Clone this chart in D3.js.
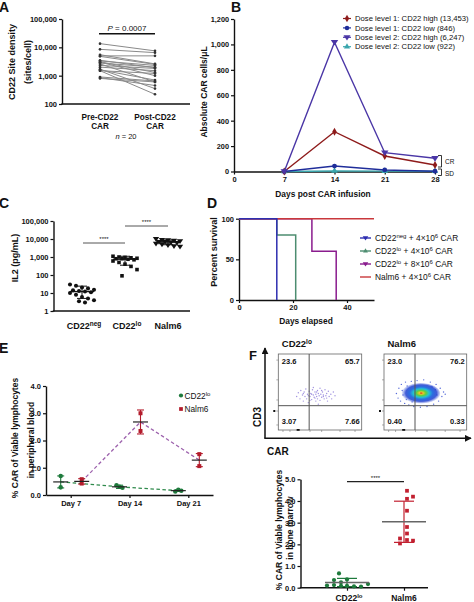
<!DOCTYPE html>
<html><head><meta charset="utf-8">
<script src="https://cdn.jsdelivr.net/npm/d3@7"></script>
<style>
body{margin:0;background:#fff}
svg{display:block}
</style></head><body><svg id="c" width="474" height="602"></svg>
<script>
// ---------------- DATA ----------------
// Panel A: CD22 site density, paired pre/post
const aCats = ["Pre-CD22\nCAR", "Post-CD22\nCAR"];
const aYTicks = [100, 1000, 10000, 100000];
const aPre  = [13500, 8500, 5500, 5000, 4800, 3500, 3300, 3100, 3000, 2800, 2600, 2300, 2000, 1700, 1600, 1500, 1500, 900, 850, 800];
const aPost = [7500, 6500, 2600, 5000, 2500, 1900, 2300, 1300, 1000, 2000, 600, 1800, 1500, 350, 700, 220, 1200, 650, 450, 600];

// Panel B: absolute CAR cells
const bDays = [7, 14, 21, 28];
const bXTicks = [0, 7, 14, 21, 28];
const bYTicks = [0, 200, 400, 600, 800, 1000, 1200];
const bNames = ["Dose level 1: CD22 high (13,453)", "Dose level 1: CD22 low (846)", "Dose level 2: CD22 high (6,247)", "Dose level 2: CD22 low (922)"];
const bDose1High = [0, 313, 122, 51];
const bDose1Low  = [0, 43, 12, 2];
const bDose2High = [0, 1017, 148, 104];
const bDose2Low  = [0, 4, 3, 2];

// Panel C: IL2
const cCats = ["CD22neg", "CD22lo", "Nalm6"];
const cYTicks = [1, 10, 100, 1000, 10000, 100000];
const cNeg  = [30, 25, 20, 18, 15, 14, 13, 12, 11, 10, 8, 6, 5, 4, 3.5, 3];
const cLo   = [1100, 1000, 950, 900, 850, 800, 800, 750, 700, 600, 500, 400, 300, 200, 90];
const cNalm = [10000, 9000, 8500, 8000, 7500, 7000, 7000, 6500, 6000, 5500, 5000, 4500, 4000, 3800];
const cMedian = [12, 750, 6800];
const cLow  = [5, 350, 4800];
const cHigh = [24, 1100, 8800];

// Panel D: survival
const dNames = [["CD22", "neg", " + 4\u00d710", "6", " CAR"], ["CD22", "lo", " + 4\u00d710", "6", " CAR"], ["CD22", "lo", " + 8\u00d710", "6", " CAR"], ["Nalm6 + 4\u00d710", "6", " CAR"]];
const dNeg4 = [[0, 100], [14, 0]];
const dLo4  = [[0, 100], [14, 80], [21, 0]];
const dLo8  = [[0, 100], [27, 60], [36, 0]];
const dNalm = [[0, 100], [50, 100]];
const dXTicks = [0, 20, 40];
const dYTicks = [0, 50, 100];

// Panel E: % CAR in peripheral blood
const eDays = ["Day 7", "Day 14", "Day 21"];
const eYTicks = [0, 1, 2, 3, 4];
const eLoPts   = [[0.70, 0.28], [0.36, 0.27, 0.30], [0.13, 0.16, 0.19]];
const eLoMean  = [0.48, 0.30, 0.16];
const eLoSD    = [0.22, 0.06, 0.03];
const eNalmPts  = [[0.58, 0.42], [3.0, 2.35], [1.5, 1.06]];
const eNalmMean = [0.50, 2.68, 1.28];
const eNalmSD   = [0.10, 0.44, 0.24];

// Panel F: flow quadrants
const fQuadL = ["23.6", "65.7", "3.07", "7.66"];
const fQuadR = ["23.0", "76.2", "0.40", "0.33"];
const fLeftDots = [[22,44],[24,49],[26,41],[27,52],[29,46],[30,38],[31,50],[32,44],[33,54],[34,41],[35,47],[36,36],[37,51],[38,44],[39,48],[40,40],[41,53],[42,46],[43,43],[44,50],[45,38],[45,47],[46,44],[47,52],[47,41],[48,48],[49,45],[50,55],[50,39],[51,47],[52,43],[53,50],[54,46],[55,41],[56,53],[57,45],[58,48],[59,38],[60,51],[61,44],[63,47],[64,41],[66,50],[68,45],[42,56],[48,34],[36,45],[44,42],[52,52],[40,47],[46,50],[54,44],[38,39],[58,42],[30,48]];
const fRightDots = [[15,48],[17,42],[18,55],[20,38],[21,60],[23,46],[25,35],[26,63],[28,58],[30,33],[33,64],[36,31],[40,65],[44,30],[48,66],[52,31],[56,63],[60,34],[63,60],[66,38],[68,55],[70,44],[72,50],[74,47],[64,46],[22,52],[58,57],[34,37],[27,40],[62,53]];
const fRightBlob = {cx: 44, cy: 48, rx: 24, ry: 14};
// Panel F bottom: bone marrow
const fCats = ["CD22lo", "Nalm6"];
const fYTicks = [0, 1, 2, 3, 4, 5];
const fLo   = [0.66, 0.38, 0.35, 0.25, 0.17, 0.12, 0.10, 0.08, 0.08, 0.06, 0.05];
const fNalm = [4.47, 4.2, 4.1, 3.55, 2.8, 2.5, 2.27, 2.2, 2.17, 2.04];
const fMean = [0.24, 3.04];
const fSD   = [0.19, 0.95];

// ---------------- HELPERS ----------------
const FONT = '"Liberation Sans", Arial, Helvetica, sans-serif';
const svg = d3.select("#c").attr("font-family", FONT);
svg.append("rect").attr("width", 474).attr("height", 602).attr("fill", "#fff");

function txt(g, x, y, s, fs, o = {}) {
  return g.append("text").attr("x", x).attr("y", y).attr("font-size", fs)
    .attr("font-weight", o.w || "normal").attr("text-anchor", o.a || "start")
    .attr("fill", o.c || "#111").text(s);
}
function vtxt(g, xc, yc, s, fs, w) {
  return g.append("text").attr("transform", `translate(${xc + 0.35 * fs},${yc}) rotate(-90)`)
    .attr("text-anchor", "middle").attr("font-size", fs).attr("font-weight", w || "bold")
    .attr("fill", "#111").text(s);
}
function rich(t, parts, supSize) {
  parts.forEach((p, i) => {
    const ts = t.append("tspan").text(p);
    if (i % 2 === 1) ts.attr("dy", -3).attr("font-size", supSize);
    else if (i > 0) ts.attr("dy", 3);
  });
  return t;
}
function axStyle(g, fs) {
  g.select(".domain").attr("stroke", "#111").attr("stroke-width", 1.4);
  g.selectAll(".tick line").attr("stroke", "#111").attr("stroke-width", 1.2);
  g.selectAll(".tick text").attr("font-size", fs).attr("font-weight", "bold").attr("fill", "#111").attr("font-family", FONT);
}
function seg(g, x1, y1, x2, y2, c, w, dash) {
  const l = g.append("line").attr("x1", x1).attr("y1", y1).attr("x2", x2).attr("y2", y2)
    .attr("stroke", c).attr("stroke-width", w);
  if (dash) l.attr("stroke-dasharray", dash);
  return l;
}
function sym(g, type, x, y, size, c) {
  return g.append("path").attr("d", d3.symbol().type(type).size(size)()).attr("transform", `translate(${x},${y})`).attr("fill", c);
}
const triDown = { draw(ctx, size) { const r = Math.sqrt(size / 1.3); ctx.moveTo(-r, -r * 0.6); ctx.lineTo(r, -r * 0.6); ctx.lineTo(0, r * 0.9); ctx.closePath(); } };

// ---------------- PANEL A ----------------
{
  const g = svg.append("g");
  txt(g, -1, 12, "A", 14, { w: "bold" });
  const y = d3.scaleLog().domain([100, 100000]).range([104, 19]);
  const x = d3.scalePoint().domain(aCats).range([100, 155]);
  g.append("g").attr("transform", "translate(62,0)")
    .call(d3.axisLeft(y).tickValues(aYTicks).tickFormat(d3.format(",")).tickSize(3).tickSizeOuter(0).tickPadding(2))
    .call(axStyle, 7.5);
  seg(g, 61.3, 104, 190, 104, "#111", 1.4);
  aPre.forEach((v, i) => {
    seg(g, x(aCats[0]), y(v), x(aCats[1]), y(aPost[i]), "#8a8a8a", 1);
  });
  aPre.forEach((v, i) => {
    g.append("circle").attr("cx", x(aCats[0])).attr("cy", y(v)).attr("r", 1.3).attr("fill", "#333");
    g.append("circle").attr("cx", x(aCats[1])).attr("cy", y(aPost[i])).attr("r", 1.3).attr("fill", "#333");
  });
  aCats.forEach(c => {
    const [l1, l2] = c.split("\n");
    txt(g, x(c), 119.5, l1, 8.2, { w: "bold", a: "middle" });
    txt(g, x(c), 129, l2, 8.2, { w: "bold", a: "middle" });
  });
  const p = txt(g, 127, 31, "", 8, { a: "middle" });
  p.append("tspan").attr("font-style", "italic").text("P");
  p.append("tspan").text(" = 0.0007");
  seg(g, 99, 33.8, 155, 33.8, "#111", 1.5);
  const n = txt(g, 126, 139, "", 7.5, { a: "middle" });
  n.append("tspan").attr("font-style", "italic").text("n");
  n.append("tspan").text(" = 20");
  vtxt(g, 12, 62, "CD22 Site density", 9);
  vtxt(g, 28, 62, "(sites/cell)", 9);
}

// ---------------- PANEL B ----------------
{
  const g = svg.append("g");
  txt(g, 231, 12, "B", 14, { w: "bold" });
  const x = d3.scaleLinear().domain([0, 28]).range([234, 435]);
  const y = d3.scaleLinear().domain([0, 1200]).range([171.5, 19]);
  g.append("g").attr("transform", "translate(234,0)")
    .call(d3.axisLeft(y).tickValues(bYTicks).tickFormat(d3.format(",")).tickSize(3).tickSizeOuter(0).tickPadding(2))
    .call(axStyle, 7.3);
  g.append("g").attr("transform", "translate(0,171.5)")
    .call(d3.axisBottom(x).tickValues(bXTicks).tickSize(3).tickSizeOuter(0).tickPadding(2))
    .call(axStyle, 7.5);
  const series = [
    { v: bDose2Low, c: "#3aa6ad", s: d3.symbolTriangle },
    { v: bDose1Low, c: "#1f2d9a", s: d3.symbolCircle },
    { v: bDose1High, c: "#8e1b1b", s: d3.symbolDiamond },
    { v: bDose2High, c: "#4a36a6", s: triDown },
  ];
  const line = d3.line().x((d, i) => x(bDays[i])).y(d => y(d));
  series.forEach(s => {
    g.append("path").attr("d", line(s.v)).attr("fill", "none").attr("stroke", s.c).attr("stroke-width", 1.4);
    s.v.forEach((d, i) => sym(g, s.s, x(bDays[i]), y(d), 18, s.c));
  });
  const legOrder = [
    { c: "#8e1b1b", s: d3.symbolDiamond }, { c: "#1f2d9a", s: d3.symbolCircle },
    { c: "#4a36a6", s: triDown }, { c: "#3aa6ad", s: d3.symbolTriangle }];
  bNames.forEach((nm, i) => {
    const yy = 18.5 + i * 9.4;
    seg(g, 343, yy, 351, yy, legOrder[i].c, 1.2);
    sym(g, legOrder[i].s, 347, yy, 16, legOrder[i].c);
    txt(g, 355, yy + 2.7, nm, 7.7);
  });
  g.append("path").attr("d", "M438,155.5H441.5V167H438").attr("fill", "none").attr("stroke", "#222").attr("stroke-width", 0.9);
  g.append("path").attr("d", "M438,169H441.5V175.5H438").attr("fill", "none").attr("stroke", "#222").attr("stroke-width", 0.9);
  txt(g, 445, 163.5, "CR", 6.5);
  txt(g, 445, 175.5, "SD", 6.5);
  txt(g, 323, 196.5, "Days post CAR infusion", 8.4, { w: "bold", a: "middle" });
  vtxt(g, 204.5, 92, "Absolute CAR cells/\u03bcL", 8.5);
}

// ---------------- PANEL C ----------------
{
  const g = svg.append("g");
  txt(g, -1, 208, "C", 14, { w: "bold" });
  const y = d3.scaleLog().domain([1, 100000]).range([311, 221]);
  const x = d3.scalePoint().domain(cCats).range([82, 168]);
  g.append("g").attr("transform", "translate(53.5,0)")
    .call(d3.axisLeft(y).tickValues(cYTicks).tickFormat(d3.format(",")).tickSize(3).tickSizeOuter(0).tickPadding(2))
    .call(axStyle, 7.5);
  seg(g, 52.8, 311, 190, 311, "#111", 1.4);
  const jit = [-12, -6, 0, 6, 12, -9, -3, 3, 9, -12, -6, 0, 6, 12, -3, 3];
  const groups = [
    { v: cNeg, s: d3.symbolCircle }, { v: cLo, s: d3.symbolSquare }, { v: cNalm, s: triDown }];
  groups.forEach((gr, k) => {
    const cx = x(cCats[k]);
    gr.v.forEach((v, i) => sym(g, gr.s, cx + jit[i % jit.length], y(v), 13, "#111"));
    seg(g, cx - 12, y(cMedian[k]), cx + 12, y(cMedian[k]), "#111", 1.3);
    seg(g, cx, y(cLow[k]), cx, y(cHigh[k]), "#111", 1);
    seg(g, cx - 5, y(cLow[k]), cx + 5, y(cLow[k]), "#111", 1);
    seg(g, cx - 5, y(cHigh[k]), cx + 5, y(cHigh[k]), "#111", 1);
  });
  seg(g, 83, 243, 125, 243, "#555", 1);
  txt(g, 104, 241, "****", 6, { a: "middle" });
  seg(g, 125, 226, 168, 226, "#555", 1);
  txt(g, 146.5, 224, "****", 6, { a: "middle" });
  const labs = [["CD22", "neg"], ["CD22", "lo"], ["Nalm6"]];
  labs.forEach((l, k) => {
    const t = txt(g, x(cCats[k]) + (k === 2 ? 0 : 2), 328.5, "", 9, { w: "bold", a: "middle" });
    rich(t, l, 6.5);
  });
  vtxt(g, 15, 258, "IL2 (pg/mL)", 9);
}

// ---------------- PANEL D ----------------
{
  const g = svg.append("g");
  txt(g, 207, 208, "D", 14, { w: "bold" });
  const x = d3.scaleLinear().domain([0, 50]).range([239, 374]);
  const y = d3.scaleLinear().domain([0, 100]).range([300, 218.7]);
  g.append("g").attr("transform", "translate(239,0)")
    .call(d3.axisLeft(y).tickValues(dYTicks).tickSize(3).tickSizeOuter(0).tickPadding(2))
    .call(axStyle, 7.5);
  g.append("g").attr("transform", "translate(0,300)")
    .call(d3.axisBottom(x).tickValues(dXTicks).tickSize(3).tickSizeOuter(0).tickPadding(2))
    .call(axStyle, 7.5);
  const line = d3.line().x(d => x(d[0])).y(d => y(d[1])).curve(d3.curveStepAfter);
  const cols = { neg: "#2e2eb0", lo4: "#4d8d70", lo8: "#8a1c8e", nalm: "#c9383c" };
  [[dLo4, cols.lo4], [dLo8, cols.lo8], [dNalm, cols.nalm], [dNeg4, cols.neg]].forEach(([d, c]) => {
    g.append("path").attr("d", line(d)).attr("fill", "none").attr("stroke", c).attr("stroke-width", 1.5);
  });
  const lc = [cols.neg, cols.lo4, cols.lo8, cols.nalm];
  dNames.forEach((nm, i) => {
    const yy = 238 + i * 13;
    seg(g, 360, yy, 371, yy, lc[i], 1.4);
    if (i < 3) sym(g, i === 1 ? d3.symbolTriangle : triDown, 365.5, yy, 10, lc[i]);
    const t = txt(g, 375, yy + 3, "", 8.4);
    rich(t, nm, 6);
  });
  txt(g, 306, 324, "Days elapsed", 8.4, { w: "bold", a: "middle" });
  vtxt(g, 213.5, 252, "Percent survival", 9);
}

// ---------------- PANEL E ----------------
{
  const g = svg.append("g");
  txt(g, -1, 353, "E", 14, { w: "bold" });
  const y = d3.scaleLinear().domain([0, 4]).range([495, 386]);
  const x = d3.scalePoint().domain(eDays).range([46, 213]).padding(0.42);
  g.append("g").attr("transform", "translate(46,0)")
    .call(d3.axisLeft(y).tickValues(eYTicks).tickSize(3).tickSizeOuter(0).tickPadding(2))
    .call(axStyle, 7.5);
  g.append("g").attr("transform", "translate(0,495)")
    .call(d3.axisBottom(x).tickSize(3).tickSizeOuter(0).tickPadding(3))
    .call(axStyle, 7.5);
  const green = "#1e7a3c", red = "#b31b2b";
  const offLo = -10, offNa = 11;
  const loLine = d3.line().x((d, i) => x(eDays[i]) + offLo).y(d => y(d));
  const naLine = d3.line().x((d, i) => x(eDays[i]) + offNa).y(d => y(d));
  g.append("path").attr("d", loLine(eLoMean)).attr("fill", "none").attr("stroke", "#2f8a4c").attr("stroke-width", 1.3).attr("stroke-dasharray", "3.5,2.5");
  g.append("path").attr("d", naLine(eNalmMean)).attr("fill", "none").attr("stroke", "#9d62ad").attr("stroke-width", 1.3).attr("stroke-dasharray", "3.5,2.5");
  const pj = [-3, 3, 0];
  function grp(pts, mean, sd, off, col, shape) {
    pts.forEach((arr, k) => {
      const cx = x(eDays[k]) + off;
      seg(g, cx, y(mean[k] - sd[k]), cx, y(mean[k] + sd[k]), col, 1.1);
      seg(g, cx - 3.5, y(mean[k] - sd[k]), cx + 3.5, y(mean[k] - sd[k]), col, 1.1);
      seg(g, cx - 3.5, y(mean[k] + sd[k]), cx + 3.5, y(mean[k] + sd[k]), col, 1.1);
      arr.forEach((v, i) => sym(g, shape, cx + (arr.length > 2 ? pj[i] : 0), y(v), 16, col));
      seg(g, cx - 7.5, y(mean[k]), cx + 7.5, y(mean[k]), "#222", 1.2);
    });
  }
  grp(eLoPts, eLoMean, eLoSD, offLo, green, d3.symbolCircle);
  grp(eNalmPts, eNalmMean, eNalmSD, offNa, red, d3.symbolSquare);
  sym(g, d3.symbolCircle, 181, 395.5, 14, green);
  rich(txt(g, 184.5, 398.8, "", 8.3), ["CD22", "lo"], 6);
  sym(g, d3.symbolSquare, 181, 409, 14, red);
  txt(g, 184.5, 412.2, "Nalm6", 8.3);
  vtxt(g, 15, 438, "% CAR of Viable lymphocytes", 8.5);
  vtxt(g, 31, 440, "in peripheral blood", 8.5);
}

// ---------------- PANEL F (flow) ----------------
{
  const g = svg.append("g");
  txt(g, 249, 360, "F", 13, { w: "bold" });
  const defs = svg.append("defs");
  const mk = defs.append("marker").attr("id", "arr").attr("viewBox", "0 0 10 10").attr("refX", 9).attr("refY", 5)
    .attr("markerWidth", 7).attr("markerHeight", 7).attr("orient", "auto-start-reverse").attr("markerUnits", "userSpaceOnUse");
  mk.append("path").attr("d", "M0,0L10,5L0,10z").attr("fill", "#111");
  seg(g, 265, 438.3, 265, 348, "#111", 1.5).attr("marker-end", "url(#arr)");
  seg(g, 264.3, 438.3, 471, 438.3, "#111", 1.5).attr("marker-end", "url(#arr)");
  vtxt(g, 257, 417, "CD3", 10);
  txt(g, 267, 455, "CAR", 10, { w: "bold" });

  const grad = defs.append("radialGradient").attr("id", "blob").attr("cx", 0.52).attr("cy", 0.48).attr("r", 0.5);
  [[0, "#d81f1f"], [0.1, "#eac82a"], [0.24, "#5fcf3f"], [0.4, "#22c2d2"], [0.58, "#2a6fe0"], [0.78, "#2040d0", 0.85], [1, "#3050d8", 0]]
    .forEach(s => grad.append("stop").attr("offset", s[0]).attr("stop-color", s[1]).attr("stop-opacity", s[2] === undefined ? 1 : s[2]));

  const boxes = [
    { x0: 278.3, x1: 361.7, title: ["CD22", "lo"], q: fQuadL, gate: 37 },
    { x0: 384, x1: 466.7, title: ["Nalm6"], q: fQuadR, gate: 37.5 }];
  const ticksY = [6.6, 25, 39.5, 66, 92];
  const ticksX = [5.6, 14, 38, 52, 74, 92];
  boxes.forEach((b, k) => {
    const xs = d3.scaleLinear().domain([0, 100]).range([b.x0, b.x1]);
    const ys = d3.scaleLinear().domain([0, 100]).range([430, 354]);
    if (k === 0) {
      fLeftDots.forEach(d => g.append("circle").attr("cx", xs(d[0])).attr("cy", ys(d[1])).attr("r", 0.7).attr("fill", "#8877d8").attr("opacity", 0.8));
    } else {
      fRightDots.forEach(d => g.append("circle").attr("cx", xs(d[0])).attr("cy", ys(d[1])).attr("r", 0.7).attr("fill", "#2a45d0").attr("opacity", 0.8));
      const rx = xs(fRightBlob.cx + fRightBlob.rx) - xs(fRightBlob.cx);
      const ry = ys(fRightBlob.cy) - ys(fRightBlob.cy + fRightBlob.ry);
      g.append("ellipse").attr("cx", xs(fRightBlob.cx)).attr("cy", ys(fRightBlob.cy)).attr("rx", rx).attr("ry", ry).attr("fill", "url(#blob)");
    }
    g.append("rect").attr("x", b.x0).attr("y", 354).attr("width", b.x1 - b.x0).attr("height", 76)
      .attr("fill", "none").attr("stroke", "#666").attr("stroke-width", 0.8);
    seg(g, xs(b.gate), 354, xs(b.gate), 430, "#555", 1);
    seg(g, b.x0, ys(32), b.x1, ys(32), "#555", 1);
    ticksY.forEach(t => seg(g, b.x0 - 2, ys(t), b.x0, ys(t), "#777", 0.6));
    ticksX.forEach(t => seg(g, xs(t), 430, xs(t), 432, "#777", 0.6));
    g.append("rect").attr("x", b.x0 - 5).attr("y", ys(25) - 1).attr("width", 2).attr("height", 2).attr("fill", "#111");
    g.append("rect").attr("x", xs(22)).attr("y", 429).attr("width", 3).attr("height", 1.8).attr("fill", "#111");
    rich(txt(g, b.x0 + 3.5, 347, "", 9.5, { w: "bold" }), b.title, 6.5);
    txt(g, b.x0 + 3.5, 363.5, b.q[0], 7.5, { w: "bold" });
    txt(g, b.x1 - 2, 363.5, b.q[1], 7.5, { w: "bold", a: "end" });
    txt(g, b.x0 + 3.5, 424, b.q[2], 7.5, { w: "bold" });
    txt(g, b.x1 - 2, 424, b.q[3], 7.5, { w: "bold", a: "end" });
  });
}

// ---------------- PANEL F (bone marrow) ----------------
{
  const g = svg.append("g");
  const y = d3.scaleLinear().domain([0, 5]).range([587.7, 479.3]);
  const x = d3.scalePoint().domain(fCats).range([347, 404]);
  g.append("g").attr("transform", "translate(300.5,0)")
    .call(d3.axisLeft(y).tickValues(fYTicks).tickSize(3).tickSizeOuter(0).tickPadding(2))
    .call(axStyle, 7.5);
  const ax = g.append("g").attr("transform", "translate(0,587.7)")
    .call(d3.axisBottom(x).tickSize(3).tickSizeOuter(0).tickFormat(""));
  ax.select(".domain").remove();
  ax.selectAll(".tick line").attr("stroke", "#111").attr("stroke-width", 1.2);
  seg(g, 299.8, 587.7, 428, 587.7, "#111", 1.4);
  const green = "#1e7a3c", red = "#c22030";
  const jLo = [-8, 0, -13, -6, 21, -13, -20, -6, 0, 7, 14];
  const jNa = [3, 9, 3, 3, 3, 3, -4, 3, 9, -4];
  const sets = [{ v: fLo, j: jLo, c: green, s: d3.symbolCircle }, { v: fNalm, j: jNa, c: red, s: d3.symbolSquare }];
  sets.forEach((st, k) => {
    const cx = x(fCats[k]);
    st.v.forEach((v, i) => sym(g, st.s, cx + st.j[i], y(v), 14, st.c));
    seg(g, cx, y(fMean[k] - fSD[k]), cx, y(fMean[k] + fSD[k]), st.c, 1.2);
    seg(g, cx - 10, y(fMean[k] - fSD[k]), cx + 10, y(fMean[k] - fSD[k]), st.c, 1.2);
    seg(g, cx - 10, y(fMean[k] + fSD[k]), cx + 10, y(fMean[k] + fSD[k]), st.c, 1.2);
    seg(g, cx - 22, y(fMean[k]), cx + 22, y(fMean[k]), "#666", 1.5);
  });
  seg(g, 347, 481.7, 404, 481.7, "#222", 1.3);
  txt(g, 375.5, 479.5, "****", 6, { a: "middle" });
  rich(txt(g, 349, 600.5, "", 8.5, { w: "bold", a: "middle" }), ["CD22", "lo"], 6);
  txt(g, 404, 600.5, "Nalm6", 8.5, { w: "bold", a: "middle" });
  vtxt(g, 279.5, 530, "% CAR of Viable lymphocytes", 8.5);
  vtxt(g, 290.5, 528, "in bone marrow", 8.5);
}
</script></body></html>
